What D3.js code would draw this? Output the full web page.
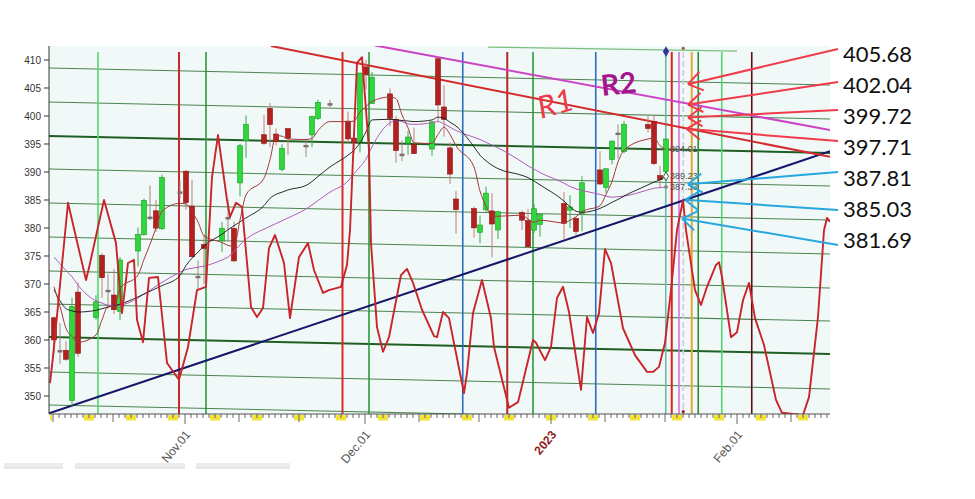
<!DOCTYPE html>
<html><head><meta charset="utf-8">
<script src="https://cdn.jsdelivr.net/npm/d3@7"></script>
<style>body{margin:0;background:#fff}svg{display:block}</style>
</head><body><svg id="c" width="975" height="499"></svg>
<script>
// ---------- DATA ----------
const candleDates = ["2022-10-10","2022-10-11","2022-10-12","2022-10-13","2022-10-14","2022-10-17","2022-10-18","2022-10-19","2022-10-20","2022-10-21","2022-10-24","2022-10-25","2022-10-26","2022-10-27","2022-10-28","2022-10-31",
"2022-11-01","2022-11-02","2022-11-03","2022-11-04","2022-11-07","2022-11-08","2022-11-09","2022-11-10","2022-11-11","2022-11-14","2022-11-15","2022-11-16","2022-11-17","2022-11-18","2022-11-21","2022-11-22","2022-11-23","2022-11-25","2022-11-28","2022-11-29","2022-11-30",
"2022-12-01","2022-12-02","2022-12-05","2022-12-06","2022-12-07","2022-12-08","2022-12-09","2022-12-12","2022-12-13","2022-12-14","2022-12-15","2022-12-16","2022-12-19","2022-12-20","2022-12-21","2022-12-22","2022-12-23","2022-12-27","2022-12-28","2022-12-29","2022-12-30",
"2023-01-03","2023-01-04","2023-01-05","2023-01-06","2023-01-09","2023-01-10","2023-01-11","2023-01-12","2023-01-13","2023-01-17","2023-01-18","2023-01-19","2023-01-20"];
const opens = [363.96,358.24,358.17,349.21,368.55,364.01,375.13,368.99,368.03,365.12,375.89,378.79,381.62,383.07,379.87,386.44,
390.14,383.90,371.47,377.06,377.71,381.50,379.93,388.05,395.59,396.66,401.36,396.78,390.46,397.74,394.64,396.63,399.55,401.83,399.09,396.05,395.49,
408.77,402.25,403.95,399.42,392.94,395.14,394.94,394.11,410.22,401.61,394.30,385.18,383.47,379.23,383.25,383.05,379.65,382.79,381.33,379.63,380.64,
384.37,383.18,381.72,382.61,390.37,387.25,392.23,396.67,393.62,398.48,399.01,389.36,390.10];
const highs = [364.21,363.03,359.82,367.51,370.26,367.98,375.45,371.85,372.67,374.80,380.06,385.25,387.58,385.00,389.52,388.40,
390.39,388.63,374.20,378.87,381.08,385.12,381.14,395.04,400.09,400.18,402.31,397.78,394.95,397.81,395.82,400.07,402.93,402.91,400.81,397.30,407.68,
410.00,407.86,404.93,399.99,395.64,397.36,397.92,399.15,410.49,405.50,395.25,386.58,383.82,382.22,387.41,386.21,383.06,383.15,383.39,384.35,382.58,
386.43,385.88,381.84,389.25,393.70,390.65,395.60,398.49,399.10,400.23,400.12,391.08,396.04];
const lows = [357.67,355.71,356.30,348.11,356.96,363.60,367.52,365.55,364.61,363.54,373.11,378.67,381.35,379.33,379.68,385.26,
383.29,374.76,368.79,370.00,375.68,377.72,373.90,385.64,392.53,394.83,394.49,394.79,390.14,393.04,392.66,394.41,399.31,401.54,395.11,393.30,393.48,
404.75,402.14,398.17,391.64,391.97,393.09,393.22,392.92,399.07,396.31,387.89,379.02,378.28,377.28,382.66,374.77,378.03,379.65,376.42,379.08,378.43,
377.83,380.00,378.76,379.41,387.67,386.27,391.38,392.42,393.34,397.06,391.28,387.26,389.38];
const closes = [360.02,357.74,356.56,365.97,357.63,366.82,371.13,368.50,365.41,374.29,378.87,384.92,382.02,379.98,389.02,386.21,
384.52,374.87,371.01,376.35,379.95,382.00,374.13,394.69,398.51,395.12,398.49,395.45,394.24,396.03,394.59,399.90,402.42,402.33,395.91,395.23,407.68,
407.38,406.91,399.59,393.83,393.16,396.24,393.28,398.95,401.97,399.40,389.63,383.27,380.02,380.54,386.23,380.72,382.91,381.40,376.66,383.44,382.43,
380.82,383.76,379.38,388.08,387.86,390.58,395.52,396.96,398.50,397.77,391.49,388.64,395.88];

// moving averages (fast brown, black, violet)
const maFast = [369.5,366.0,362.1,360.6,359.6,360.9,363.6,366.0,365.9,369.2,371.6,374.4,377.1,380.0,383.0,384.4,
384.3,382.9,381.1,378.6,377.4,376.9,376.7,381.4,385.9,388.9,392.2,396.5,396.4,395.9,395.8,396.0,397.4,399.0,399.0,399.1,400.7,
401.7,402.6,403.4,403.1,400.2,397.9,395.2,395.1,396.7,398.0,396.7,394.7,390.9,386.6,383.9,382.1,382.1,382.3,381.6,381.0,381.4,
380.9,381.4,382.0,382.9,384.0,386.0,388.3,391.8,393.9,395.9,396.1,394.7,394.01];
const maMid = [369.0,367.0,365.6,365.2,365.0,365.3,365.6,365.9,366.1,366.4,367.7,368.2,368.7,369.2,369.7,371.5,
373.3,374.6,375.7,376.8,378.9,379.7,380.4,381.1,381.8,384.0,385.3,386.0,386.4,386.8,387.6,388.3,389.2,390.9,393.0,393.9,395.2,
397.2,399.3,399.4,399.3,399.2,399.1,399.0,399.3,399.8,399.6,398.9,398.2,394.5,393.0,392.0,391.2,390.6,389.4,389.0,388.4,387.7,
384.8,383.8,383.0,382.8,383.5,384.0,384.6,385.1,385.7,387.7,388.2,388.6,389.23];
const maSlow = [374.8,373.6,372.4,371.3,369.8,367.0,366.6,366.2,366.1,366.2,367.5,368.2,368.9,369.6,370.3,372.1,
372.6,372.8,373.0,373.2,374.3,374.8,375.8,377.0,378.0,379.8,380.3,380.8,381.3,381.8,383.4,384.1,384.9,386.4,388.4,389.7,390.9,
392.3,394.5,398.8,399.2,399.0,398.6,398.5,398.8,399.0,398.6,398.0,397.4,396.2,395.8,395.3,394.8,394.3,391.8,391.1,390.5,389.9,
388.0,387.4,387.0,386.7,386.0,385.7,385.5,385.6,385.7,386.8,387.1,387.2,387.33];

// cycle oscillator drawn in price units
const oscDates = ["2022-10-09T12","2022-10-10T00","2022-10-12T12","2022-10-15T12","2022-10-16T00","2022-10-18T12","2022-10-20T12","2022-10-21T12","2022-10-22T12","2022-10-23T12","2022-10-24T00","2022-10-25T00","2022-10-26T00","2022-10-27T12","2022-10-29T00","2022-10-31T00",
"2022-11-01T12","2022-11-03T00","2022-11-04T12","2022-11-05T12","2022-11-06T12","2022-11-08T00","2022-11-08T12","2022-11-09T12","2022-11-10T12","2022-11-12T00","2022-11-13T00","2022-11-14T00","2022-11-15T00","2022-11-16T00","2022-11-17T12","2022-11-18T12","2022-11-20T00","2022-11-21T12","2022-11-22T12","2022-11-24T00","2022-11-25T00","2022-11-27T00","2022-11-28T00","2022-11-28T12","2022-11-29T16","2022-11-30T12",
"2022-12-01T16","2022-12-02T00","2022-12-03T00","2022-12-04T00","2022-12-05T00","2022-12-07T00","2022-12-08T00","2022-12-09T00","2022-12-10T12","2022-12-12T12","2022-12-13T00","2022-12-14T00","2022-12-15T00","2022-12-17T12","2022-12-18T00","2022-12-19T00","2022-12-20T12","2022-12-22T00","2022-12-22T12","2022-12-25T00","2022-12-26T12","2022-12-29T00","2022-12-29T12","2022-12-31T00",
"2023-01-01T00","2023-01-02T00","2023-01-03T00","2023-01-04T00","2023-01-06T00","2023-01-07T00","2023-01-08T00","2023-01-09T00","2023-01-10T00","2023-01-11T00","2023-01-13T00","2023-01-15T00","2023-01-17T00","2023-01-18T00","2023-01-19T00","2023-01-20T00","2023-01-21T00","2023-01-22T00","2023-01-23T00","2023-01-23T12","2023-01-25T00","2023-01-26T00","2023-01-27T00","2023-01-28T12","2023-01-29T00","2023-01-29T12","2023-01-31T00",
"2023-02-01T00","2023-02-02T00","2023-02-03T00","2023-02-04T00","2023-02-05T12","2023-02-07T12","2023-02-08T12","2023-02-12T00","2023-02-13T00","2023-02-14T12","2023-02-15T12","2023-02-16T00","2023-02-16T12"];
const oscValues = [352.3,357.0,384.5,370.7,372.9,385.0,377.3,364.8,373.75,374.3,363.6,359.6,371.1,371.25,355.9,352.9,
358.75,368.9,369.5,389.1,396.6,385.0,382.0,384.5,383.75,365.9,364.1,365.7,376.4,378.75,373.75,363.9,374.8,377.3,372.5,368.4,368.9,369.5,373.4,379.6,409.5,410.5,
394.0,377.3,362.3,357.9,360.5,371.6,372.7,370.2,365.4,360.7,360.5,365.0,363.9,350.5,354.1,364.8,370.7,363.9,358.75,347.9,348.9,360.0,359.5,356.4,
358.75,367.5,369.5,365.0,351.1,364.1,361.25,364.8,376.25,373.75,362.1,357.3,354.3,354.3,355.2,359.5,368.9,379.6,385.0,379.6,368.9,366.25,369.5,373.4,373.9,371.25,360.5,
361.4,367.1,370.2,363.9,359.1,349.3,347.0,346.6,349.8,364.1,379.6,381.8,381.1];

// slowly drifting horizontal grid levels (value at left edge, value at right edge)
const levelStart = [408.57,402.50,396.43,390.54,384.46,378.39,372.32,366.43,360.54,354.29,348.39];
const levelEnd   = [405.54,399.46,393.39,387.50,381.43,375.36,369.29,363.39,357.50,351.25,345.36];
const levelHeavy = [false,false,true,false,false,false,false,false,true,false,false];

// vertical time-cycle lines
const vlineDates  = ["2022-10-17T12","2022-10-31T00","2022-11-04T12","2022-11-27T06","2022-12-01T16","2022-12-17T07","2022-12-24T17","2022-12-29T00","2023-01-08T11","2023-01-20T03","2023-01-21T03","2023-01-22T08","2023-01-23T01","2023-01-24T11","2023-01-25T13","2023-01-29T11","2023-02-03T11"];
const vlineColors = ["#4fdc6c","#c62a2a","#2b9a3b","#d92a2a","#2b9a3b","#2a6cc0","#b02828","#2b9a3b","#2a6cc0","#6fb8a8","#e02020","#d374e0","#cfcfcf","#e0a838","#2a8a3a","#54d474","#5a1010"];

// trend lines: support, R1, R2
const trendNames = ["support","R1","R2"];
const trendStartDates = ["2022-10-09T08","2022-11-15T08","2022-12-02T16"];
const trendStartValues = [346.9,412.5,412.6];
const trendEndDates = ["2023-02-16T12","2023-02-16T12","2023-02-16T12"];
const trendEndValues = [393.7,392.7,397.5];

// annotated target levels
const targets = [405.68,402.04,399.72,397.71,387.81,385.03,381.69];
const targetTipDates = ["2023-01-23T20","2023-01-23T20","2023-01-23T20","2023-01-23T14","2023-01-23T20","2023-01-23T08","2023-01-22T20"];
const targetKinds = ["r","r","r","r","s","s","s"];

const yTickValues = [350,355,360,365,370,375,380,385,390,395,400,405,410];
const xTickDates = ["2022-11-01","2022-12-01","2023-01-01","2023-02-01"];
const xTickLabels = ["Nov.01","Dec.01","2023","Feb.01"];

// ---------- CHART ----------
const svg = d3.select("#c");
const pD = d3.utcParse("%Y-%m-%d");
const pH = d3.utcParse("%Y-%m-%dT%H");
const L=49,R=830,T=46,B=414;
const x = d3.scaleUtc().domain([pH("2022-10-09T08"), pH("2023-02-16T12")]).range([L,R]);
const y = d3.scaleLinear().domain([346.786,412.5]).range([B,T]);
const cx = d => x(d3.utcHour.offset(pD(d),4));

svg.append("defs").append("clipPath").attr("id","clip").append("rect")
  .attr("x",L).attr("y",T).attr("width",R-L).attr("height",B-T);
svg.append("rect").attr("x",L).attr("y",T).attr("width",R-L).attr("height",B-T).attr("fill","#f1f9f8");

const g = svg.append("g").attr("clip-path","url(#clip)");

// levels
levelStart.forEach((v,i)=>{
  g.append("line").attr("x1",x.range()[0]).attr("x2",x.range()[1])
   .attr("y1",y(v)).attr("y2",y(levelEnd[i]))
   .attr("stroke", levelHeavy[i] ? "#1f5f24" : "#4a834f")
   .attr("stroke-width", levelHeavy[i] ? 2 : 1.1);
});
// short top level
g.append("line").attr("x1",x(pH("2022-12-21T12"))).attr("x2",x(pH("2023-02-01T00")))
 .attr("y1",y(412.3)).attr("y2",y(411.6)).attr("stroke","#7cbf7c").attr("stroke-width",1.2);

// vertical lines
vlineDates.forEach((d,i)=>{
  const xx = x(pH(d));
  const red = /^#(c6|d9|b0|e0)/.test(vlineColors[i]);
  g.append("line").attr("x1",xx).attr("x2",xx).attr("y1",52).attr("y2",B)
   .attr("stroke",vlineColors[i])
   .attr("stroke-width", red ? 2 : 1.6)
   .attr("stroke-dasharray", vlineColors[i]==="#cfcfcf" ? "6,3" : null);
});

// trend lines
const trendColors = {support:"#16166a",R1:"#d22b2b",R2:"#cc44c4"};
trendNames.forEach((n,i)=>{
  g.append("line").attr("x1",x(pH(trendStartDates[i]))).attr("y1",y(trendStartValues[i]))
   .attr("x2",x(pH(trendEndDates[i]))).attr("y2",y(trendEndValues[i]))
   .attr("stroke",trendColors[n]).attr("stroke-width",2);
});

// candles
const cg = g.append("g");
candleDates.forEach((d,i)=>{
  const o=opens[i],c=closes[i],h=highs[i],l=lows[i];
  const xx = cx(d);
  const doji = Math.abs(c-o) < 0.55;
  const up = c>o;
  const wick = doji ? "#9a8a80" : (up ? "#3aaa48" : "#c47a7a");
  cg.append("line").attr("x1",xx).attr("x2",xx).attr("y1",y(h)).attr("y2",y(l))
    .attr("stroke",wick).attr("stroke-width",1);
  const top = y(Math.max(o,c)), bot = y(Math.min(o,c));
  cg.append("rect").attr("x",xx-2.5).attr("width",5)
    .attr("y", doji ? (top+bot)/2-1.2 : top)
    .attr("height", doji ? 2.4 : Math.max(1.5,bot-top))
    .attr("fill", doji ? "#7d6f6a" : (up ? "#2fd83a" : "#b3201f"))
    .attr("stroke", doji ? "none" : (up ? "#1c9a2a" : "#8c1616"))
    .attr("stroke-width",0.6);
});

// moving averages
const maLine = arr => d3.line().x((v,i)=>cx(candleDates[i])).y(v=>y(v)).curve(d3.curveMonotoneX)(arr);
g.append("path").attr("d",maLine(maSlow)).attr("fill","none").attr("stroke","#b15cb8").attr("stroke-width",1);
g.append("path").attr("d",maLine(maMid)).attr("fill","none").attr("stroke","#161616").attr("stroke-width",0.9);
g.append("path").attr("d",maLine(maFast)).attr("fill","none").attr("stroke","#a3383a").attr("stroke-width",1);

// oscillator
g.append("path").attr("d", d3.line().x((d,i)=>x(pH(d))).y((d,i)=>y(oscValues[i]))(oscDates))
 .attr("fill","none").attr("stroke","#c8242a").attr("stroke-width",1.9).attr("stroke-linejoin","round");

// markers and end labels
const lastX = cx(candleDates[candleDates.length-1]);
svg.append("path").attr("d",d3.symbol(d3.symbolDiamond,34)())
  .attr("transform",`translate(${lastX},${y(411.5)})`).attr("fill","#34349a");
svg.append("circle").attr("cx",x(pH("2023-01-23T01"))).attr("cy",y(412.1)).attr("r",1.6).attr("fill","#9a5a3a");
svg.append("circle").attr("cx",x(pH("2023-01-23T01"))).attr("cy",y(347.2)).attr("r",1.6).attr("fill","#a02030");
svg.append("path").attr("d",d3.symbol(d3.symbolDiamond,22)())
  .attr("transform",`translate(${lastX},${y(maMid.at(-1))})`).attr("fill","#fff").attr("stroke","#2a6a2a");
svg.append("circle").attr("cx",lastX).attr("cy",y(maSlow.at(-1))).attr("r",2).attr("fill","#8a8a8a");
[[maFast,-1],[maMid,0],[maSlow,0]].forEach(([arr,dy])=>{
  svg.append("text").attr("x",lastX+4).attr("y",y(arr.at(-1))+3+dy)
    .attr("font-family","Liberation Sans, Arial").attr("font-size",9).attr("fill","#505050")
    .text(arr.at(-1).toFixed(2));
});

// axes
svg.append("line").attr("x1",L).attr("x2",L).attr("y1",T).attr("y2",B).attr("stroke","#333");
svg.append("line").attr("x1",L).attr("x2",R).attr("y1",B).attr("y2",B).attr("stroke","#555");
yTickValues.forEach(v=>{
  svg.append("line").attr("x1",L-5).attr("x2",L).attr("y1",y(v)).attr("y2",y(v)).attr("stroke","#333");
  svg.append("text").attr("x",L-8).attr("y",y(v)+3.5).attr("text-anchor","end")
    .attr("font-family","Liberation Sans, Arial").attr("font-size",10).attr("fill","#333").text(v);
});
// weekend markers
d3.utcSaturday.range(pH("2022-10-08T00"), x.domain()[1]).forEach(s=>{
  const x0 = Math.max(L, x(s)), x1 = Math.min(R, x(d3.utcDay.offset(s,2)));
  if (x1>x0) svg.append("rect").attr("x",x0+1).attr("y",B+1).attr("width",x1-x0-2).attr("height",5.5).attr("fill","#f3e43c");
});
d3.utcDay.range(d3.utcDay.ceil(x.domain()[0]), x.domain()[1]).forEach(d=>{
  const dd = d.getUTCDate();
  const len = dd===1 ? 10 : (dd===10||dd===20 ? 8 : 4);
  svg.append("line").attr("x1",x(d)).attr("x2",x(d)).attr("y1",B).attr("y2",B+len)
    .attr("stroke","#444").attr("stroke-width",0.8);
});
xTickDates.forEach((d,i)=>{
  const xx = x(pD(d));
  const isYear = xTickLabels[i]==="2023";
  svg.append("text").attr("transform",`translate(${xx+6},${B+21}) rotate(-50)`)
    .attr("text-anchor","end").attr("font-family","Liberation Sans, Arial").attr("font-size",12)
    .attr("font-weight", isYear ? "bold" : "normal")
    .attr("fill", isYear ? "#8b1c1c" : "#555").text(xTickLabels[i]);
});

// bottom scroll bars
[[4,63],[75,185],[196,290]].forEach(([a,b])=>{
  svg.append("rect").attr("x",a).attr("y",463).attr("width",b-a).attr("height",5).attr("fill","#ececec");
  svg.append("line").attr("x1",a).attr("x2",b).attr("y1",468).attr("y2",468).attr("stroke","#d8d8d8");
});

// target arrows and labels
const tailDy = [-5,-3,-6,-6,-6,1,5];
targets.forEach((v,i)=>{
  const cyL = 54 + 31*i;
  const col = targetKinds[i]==="r" ? "#ef3b4a" : "#27a7df";
  const px = x(pH(targetTipDates[i])), py = y(v);
  const tx = 838, ty = cyL + tailDy[i];
  svg.append("line").attr("x1",tx).attr("y1",ty).attr("x2",px).attr("y2",py)
    .attr("stroke",col).attr("stroke-width",2);
  const ang = Math.atan2(ty-py, tx-px);
  [0.6,-0.6].forEach(a=>{
    svg.append("line").attr("x1",px).attr("y1",py)
      .attr("x2",px+17*Math.cos(ang+a)).attr("y2",py+17*Math.sin(ang+a))
      .attr("stroke",col).attr("stroke-width",2);
  });
  svg.append("text").attr("x",843).attr("y",cyL+8).attr("font-family","Lato, Open Sans, sans-serif")
    .attr("font-size",22).attr("fill","#111").text(v.toFixed(2));
});

// handwritten labels
svg.append("text").attr("transform","translate(541,119) rotate(-16)")
  .attr("font-family","Lato, sans-serif").attr("font-style","italic").attr("font-size",31)
  .attr("fill","#ec3c4c").text("R1");
svg.append("text").attr("transform","translate(602,96) rotate(-6)")
  .attr("font-family","Lato, sans-serif").attr("font-weight","bold").attr("font-size",29)
  .attr("fill","#a3168e").text("R2");
</script>
</body></html>
